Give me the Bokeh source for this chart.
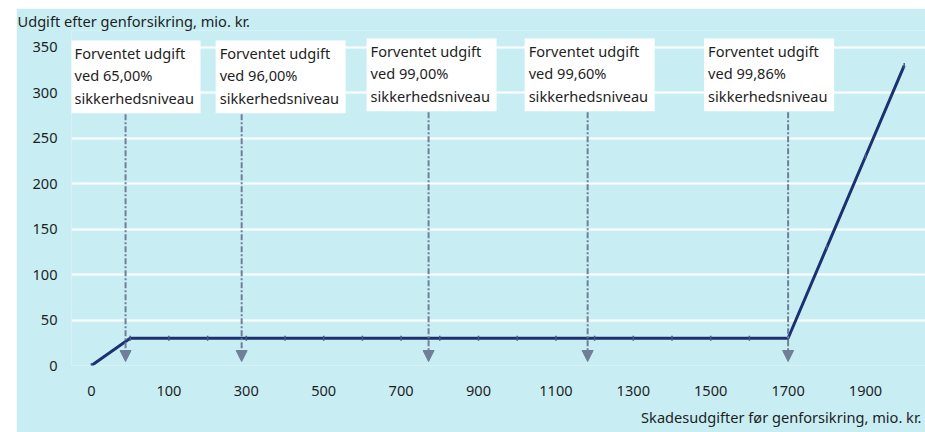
from bokeh.plotting import figure
from bokeh.embed import file_html
from bokeh.resources import INLINE
from bokeh.models import (ColumnDataSource, FixedTicker, Range1d, Title, Arrow,
                          NormalHead)
from bokeh.core.properties import value

# ---------------- data ----------------
categories = ["0", "30", "100", "200", "300", "400", "500", "600", "700", "800",
              "900", "1000", "1100", "1200", "1300", "1400", "1500", "1600",
              "1700", "1800", "1900", "2000"]
expense = [0, 30, 30, 30, 30, 30, 30, 30, 30, 30, 30, 30, 30, 30, 30, 30, 30,
           30, 30, 130, 230, 330]
y_ticks = [0, 50, 100, 150, 200, 250, 300, 350]
levels = ["65,00%", "96,00%", "99,00%", "99,60%", "99,86%"]
level_pos = [0.88, 3.88, 8.71, 12.82, 18.0]   # position on category axis
y_title = "Udgift efter genforsikring, mio. kr."
x_title = "Skadesudgifter før genforsikring, mio. kr."

# ---------------- style ----------------
BG = "#c8eef4"
LINE = "#1c3170"
ARROW = "#6e7f97"
TXT = "#1e1e1e"
FONT = "Noto Sans"
FS = "14.6px"

W, H = 909, 424
FL, FR, FT, FB = 55, 0, 22, 66
frame_w = W - FL - FR
frame_h = H - FT - FB
x_step = 38.7
x0 = -20.0 / x_step
x1 = x0 + frame_w / x_step
y_px = 319.0 / 350.0
y1 = frame_h / y_px

def px_x(px):
    return px / x_step

def px_y(px):
    return px / y_px

def page_y(py):
    # page y pixel -> data y (frame bottom at page y 366)
    return (366 - py) / y_px

p = figure(width=W, height=H, output_backend="svg", toolbar_location=None,
           x_range=Range1d(x0, x1), y_range=Range1d(0, y1),
           min_border_left=FL, min_border_right=FR, min_border_top=FT,
           min_border_bottom=FB)
p.styles = {"margin-left": "16px", "margin-top": "8px"}
p.background_fill_color = BG
p.border_fill_color = BG
p.outline_line_color = None

# title (y-axis label at top-left)
p.title.text = y_title
p.title.align = "left"
p.title.offset = -54
p.title.text_font = FONT
p.title.text_font_size = FS
p.title.text_font_style = "normal"
p.title.text_color = TXT
p.title.standoff = 0

# axes
idx = list(range(len(categories)))
p.xaxis.ticker = FixedTicker(ticks=idx[::2])
p.xaxis.major_label_overrides = {i: categories[i] for i in idx[::2]}
p.yaxis.ticker = FixedTicker(ticks=y_ticks)
for ax in (p.xaxis, p.yaxis):
    ax.axis_line_color = None
    ax.major_tick_line_color = None
    ax.minor_tick_line_color = None
    ax.major_tick_out = 0
    ax.major_tick_in = 0
    ax.minor_tick_out = 0
    ax.minor_tick_in = 0
    ax.major_label_text_font = FONT
    ax.major_label_text_font_size = FS
    ax.major_label_text_color = TXT
p.yaxis.major_label_standoff = 14
p.xaxis.major_label_standoff = 20

p.xgrid.grid_line_color = None
p.ygrid.ticker = FixedTicker(ticks=y_ticks)
p.ygrid.grid_line_color = "white"
p.ygrid.grid_line_width = 2

p.add_layout(Title(text=x_title, align="right", text_font=FONT,
                   text_font_size=FS, text_font_style="normal",
                   text_color=TXT, standoff=12, offset=4), "below")

# main line
src = ColumnDataSource(dict(x=idx, y=expense))
p.line("x", "y", source=src, line_color=LINE, line_width=3)
p.scatter("x", "y", source=src, marker="dash", angle=1.5708, size=5,
          line_color="#45598a", line_width=1.5)

# annotation boxes
box_off = [-55, -26, -62, -63, -84]
box_top = [40, 40, 38, 38, 38]
bw, bh = 130, 73
bl = [lp + px_x(o) for lp, o in zip(level_pos, box_off)]
bt = [page_y(t) for t in box_top]
bb = [page_y(t + bh) for t in box_top]
p.quad(left=bl, right=[b + px_x(bw) for b in bl], top=bt, bottom=bb,
       fill_color="white", line_color=None)

tx, ty, tt = [], [], []
for l, t, lev in zip(bl, box_top, levels):
    lines = ["Forventet udgift", "ved " + lev, "sikkerhedsniveau"]
    for k, s in enumerate(lines):
        tx.append(l + px_x(4))
        ty.append(page_y(t + 12.5 + 22.5 * k))
        tt.append(s)
p.text(x=tx, y=ty, text=tt, text_font=value(FONT), text_font_size=FS,
       text_color=TXT, text_baseline="middle", text_align="left")

# arrows
asrc = ColumnDataSource(dict(x=level_pos, y0=[b - px_y(1) for b in bb],
                             y1=[page_y(362)] * len(level_pos)))
p.add_layout(Arrow(end=NormalHead(size=11, fill_color=ARROW, line_color=ARROW,
                                  line_width=1),
                   x_start="x", y_start="y0", x_end="x", y_end="y1",
                   source=asrc, line_color=ARROW, line_width=2,
                   line_dash="6 2 2 2"))

open("out.html", "w").write(file_html(p, INLINE))
